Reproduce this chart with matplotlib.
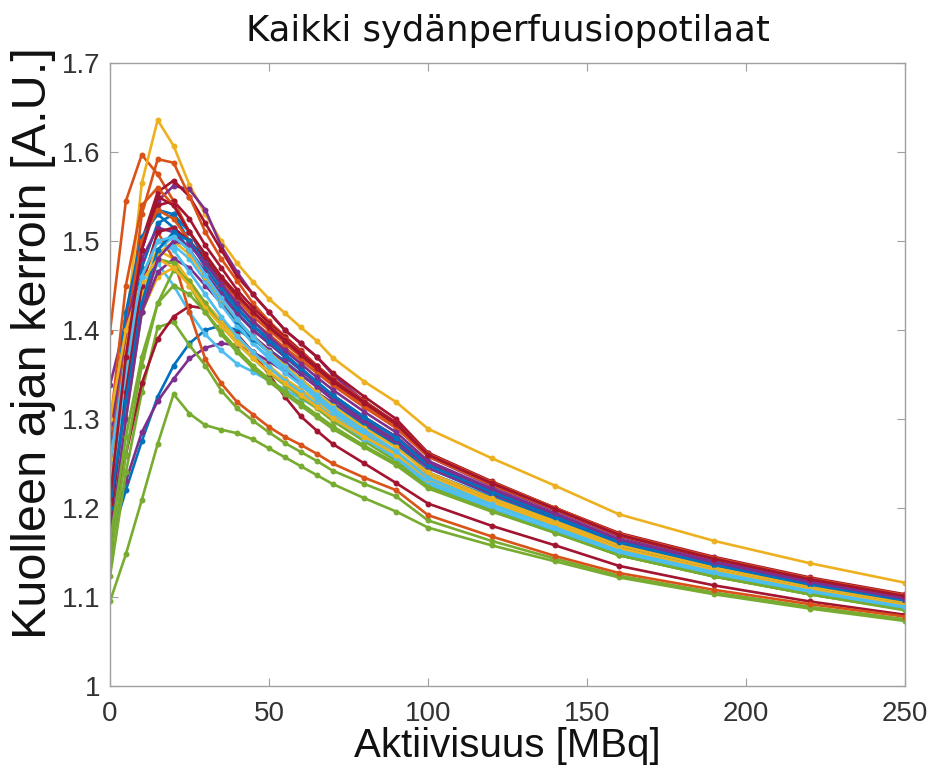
import matplotlib
matplotlib.use("Agg")
import matplotlib.pyplot as plt

# activity sample points [MBq]
aktiivisuus = [0, 5, 10, 15, 20, 25, 30, 35, 40, 45, 50, 55, 60, 65, 70,
               80, 90, 100, 120, 140, 160, 190, 220, 250]

# dead time factor per patient
p01 = [1.25, 1.40, 1.50, 1.535, 1.53, 1.50, 1.47, 1.445, 1.42, 1.40, 1.385, 1.37, 1.355, 1.34, 1.325, 1.30, 1.28, 1.245, 1.215, 1.188, 1.16, 1.135, 1.113, 1.095]
p02 = [1.398, 1.545, 1.597, 1.575, 1.545, 1.51, 1.48, 1.455, 1.435, 1.415, 1.40, 1.385, 1.37, 1.355, 1.34, 1.315, 1.29, 1.258, 1.226, 1.198, 1.17, 1.143, 1.12, 1.10]
p03 = [1.24, 1.40, 1.565, 1.636, 1.607, 1.563, 1.53, 1.50, 1.475, 1.454, 1.435, 1.419, 1.403, 1.388, 1.369, 1.342, 1.319, 1.289, 1.256, 1.225, 1.193, 1.163, 1.138, 1.116]
p04 = [1.338, 1.41, 1.49, 1.545, 1.562, 1.558, 1.535, 1.494, 1.465, 1.44, 1.42, 1.40, 1.385, 1.37, 1.35, 1.32, 1.295, 1.258, 1.225, 1.197, 1.168, 1.14, 1.118, 1.099]
p05 = [1.095, 1.148, 1.209, 1.272, 1.328, 1.306, 1.293, 1.288, 1.284, 1.277, 1.267, 1.257, 1.247, 1.237, 1.227, 1.211, 1.196, 1.178, 1.158, 1.14, 1.122, 1.103, 1.087, 1.073]
p06 = [1.20, 1.33, 1.44, 1.49, 1.505, 1.49, 1.46, 1.43, 1.405, 1.385, 1.37, 1.355, 1.34, 1.325, 1.31, 1.285, 1.262, 1.232, 1.203, 1.178, 1.152, 1.128, 1.107, 1.09]
p07 = [1.23, 1.38, 1.50, 1.555, 1.568, 1.55, 1.52, 1.49, 1.46, 1.44, 1.42, 1.40, 1.385, 1.37, 1.352, 1.325, 1.30, 1.262, 1.23, 1.20, 1.172, 1.145, 1.122, 1.103]

p08 = [1.16, 1.22, 1.275, 1.325, 1.36, 1.385, 1.40, 1.405, 1.40, 1.39, 1.378, 1.365, 1.35, 1.337, 1.322, 1.297, 1.275, 1.24, 1.21, 1.184, 1.157, 1.132, 1.11, 1.092]
p09 = [1.22, 1.38, 1.53, 1.592, 1.588, 1.55, 1.51, 1.48, 1.455, 1.43, 1.41, 1.393, 1.377, 1.36, 1.345, 1.318, 1.293, 1.26, 1.228, 1.20, 1.17, 1.143, 1.12, 1.101]
p10 = [1.26, 1.38, 1.46, 1.49, 1.48, 1.455, 1.43, 1.41, 1.39, 1.375, 1.36, 1.345, 1.333, 1.32, 1.305, 1.283, 1.262, 1.235, 1.207, 1.182, 1.156, 1.132, 1.11, 1.092]
p11 = [1.17, 1.23, 1.285, 1.32, 1.345, 1.368, 1.38, 1.385, 1.383, 1.375, 1.365, 1.353, 1.342, 1.33, 1.318, 1.295, 1.272, 1.238, 1.21, 1.184, 1.157, 1.132, 1.11, 1.092]
p12 = [1.123, 1.24, 1.33, 1.403, 1.409, 1.383, 1.36, 1.332, 1.312, 1.298, 1.285, 1.273, 1.263, 1.253, 1.242, 1.227, 1.213, 1.186, 1.163, 1.143, 1.124, 1.105, 1.089, 1.075]
p13 = [1.18, 1.32, 1.43, 1.475, 1.45, 1.42, 1.395, 1.377, 1.362, 1.353, 1.343, 1.333, 1.323, 1.313, 1.303, 1.28, 1.258, 1.228, 1.199, 1.174, 1.149, 1.125, 1.104, 1.087]
p14 = [1.175, 1.26, 1.34, 1.39, 1.415, 1.427, 1.424, 1.41, 1.395, 1.375, 1.35, 1.325, 1.303, 1.287, 1.272, 1.25, 1.228, 1.205, 1.18, 1.158, 1.135, 1.113, 1.095, 1.08]

p15 = [1.22, 1.36, 1.47, 1.52, 1.53, 1.51, 1.48, 1.45, 1.425, 1.405, 1.39, 1.373, 1.357, 1.342, 1.327, 1.302, 1.28, 1.25, 1.22, 1.192, 1.163, 1.137, 1.115, 1.097]
p16 = [1.20, 1.33, 1.45, 1.51, 1.48, 1.42, 1.367, 1.34, 1.319, 1.305, 1.291, 1.28, 1.271, 1.261, 1.25, 1.234, 1.22, 1.192, 1.168, 1.146, 1.127, 1.108, 1.092, 1.078]
p17 = [1.27, 1.36, 1.42, 1.46, 1.47, 1.455, 1.43, 1.41, 1.39, 1.373, 1.358, 1.345, 1.333, 1.32, 1.307, 1.285, 1.263, 1.237, 1.208, 1.183, 1.156, 1.132, 1.11, 1.092]
p18 = [1.24, 1.34, 1.42, 1.465, 1.48, 1.47, 1.45, 1.43, 1.41, 1.393, 1.378, 1.363, 1.35, 1.336, 1.322, 1.298, 1.276, 1.245, 1.216, 1.19, 1.162, 1.137, 1.115, 1.096]
p19 = [1.14, 1.26, 1.36, 1.43, 1.467, 1.455, 1.43, 1.405, 1.385, 1.368, 1.352, 1.338, 1.325, 1.312, 1.298, 1.275, 1.253, 1.226, 1.198, 1.173, 1.147, 1.123, 1.103, 1.086]
p20 = [1.21, 1.34, 1.44, 1.485, 1.495, 1.48, 1.455, 1.428, 1.405, 1.385, 1.368, 1.352, 1.338, 1.323, 1.308, 1.283, 1.26, 1.23, 1.20, 1.175, 1.15, 1.126, 1.105, 1.088]
p21 = [1.26, 1.40, 1.50, 1.54, 1.545, 1.525, 1.495, 1.47, 1.445, 1.425, 1.408, 1.392, 1.376, 1.36, 1.345, 1.32, 1.296, 1.262, 1.229, 1.20, 1.171, 1.144, 1.121, 1.102]

p22 = [1.27, 1.42, 1.505, 1.53, 1.515, 1.49, 1.46, 1.435, 1.41, 1.39, 1.375, 1.36, 1.345, 1.33, 1.316, 1.292, 1.27, 1.24, 1.212, 1.186, 1.158, 1.133, 1.112, 1.094]
p23 = [1.25, 1.40, 1.50, 1.535, 1.525, 1.50, 1.475, 1.45, 1.43, 1.41, 1.395, 1.38, 1.366, 1.352, 1.338, 1.313, 1.29, 1.258, 1.226, 1.198, 1.169, 1.143, 1.12, 1.101]
p24 = [1.23, 1.35, 1.44, 1.485, 1.50, 1.485, 1.46, 1.435, 1.412, 1.392, 1.375, 1.36, 1.345, 1.33, 1.315, 1.29, 1.268, 1.24, 1.211, 1.185, 1.158, 1.133, 1.112, 1.094]
p25 = [1.28, 1.40, 1.48, 1.515, 1.51, 1.49, 1.465, 1.44, 1.418, 1.40, 1.385, 1.37, 1.355, 1.34, 1.326, 1.302, 1.28, 1.25, 1.22, 1.193, 1.164, 1.138, 1.116, 1.097]
p26 = [1.15, 1.30, 1.42, 1.48, 1.475, 1.45, 1.42, 1.395, 1.375, 1.357, 1.342, 1.328, 1.315, 1.302, 1.289, 1.268, 1.248, 1.222, 1.196, 1.172, 1.147, 1.123, 1.103, 1.086]
p27 = [1.19, 1.35, 1.46, 1.50, 1.49, 1.465, 1.44, 1.415, 1.393, 1.375, 1.358, 1.343, 1.33, 1.316, 1.302, 1.278, 1.256, 1.227, 1.198, 1.173, 1.148, 1.125, 1.104, 1.087]
p28 = [1.18, 1.33, 1.45, 1.51, 1.515, 1.50, 1.48, 1.458, 1.438, 1.42, 1.403, 1.388, 1.372, 1.357, 1.342, 1.318, 1.294, 1.26, 1.228, 1.199, 1.17, 1.143, 1.12, 1.101]

p29 = [1.20, 1.32, 1.43, 1.49, 1.51, 1.50, 1.475, 1.45, 1.425, 1.405, 1.388, 1.372, 1.357, 1.342, 1.327, 1.302, 1.279, 1.248, 1.218, 1.19, 1.162, 1.136, 1.114, 1.096]
p30 = [1.29, 1.45, 1.54, 1.56, 1.54, 1.51, 1.485, 1.46, 1.44, 1.42, 1.405, 1.39, 1.375, 1.36, 1.345, 1.32, 1.295, 1.261, 1.229, 1.20, 1.171, 1.144, 1.121, 1.102]
p31 = [1.30, 1.40, 1.455, 1.48, 1.47, 1.45, 1.425, 1.405, 1.385, 1.368, 1.353, 1.34, 1.327, 1.314, 1.301, 1.28, 1.26, 1.233, 1.205, 1.18, 1.154, 1.13, 1.109, 1.091]
p32 = [1.16, 1.30, 1.42, 1.48, 1.50, 1.495, 1.475, 1.452, 1.43, 1.41, 1.393, 1.377, 1.362, 1.347, 1.333, 1.308, 1.285, 1.253, 1.222, 1.194, 1.165, 1.139, 1.117, 1.098]
p33 = [1.16, 1.28, 1.37, 1.43, 1.45, 1.44, 1.42, 1.398, 1.378, 1.36, 1.345, 1.331, 1.318, 1.305, 1.292, 1.27, 1.25, 1.224, 1.197, 1.172, 1.147, 1.123, 1.103, 1.085]
p34 = [1.25, 1.37, 1.46, 1.50, 1.505, 1.49, 1.462, 1.436, 1.412, 1.392, 1.374, 1.358, 1.342, 1.327, 1.312, 1.287, 1.264, 1.234, 1.204, 1.178, 1.152, 1.128, 1.107, 1.089]
p35 = [1.21, 1.37, 1.49, 1.55, 1.54, 1.51, 1.485, 1.46, 1.44, 1.42, 1.404, 1.389, 1.374, 1.359, 1.344, 1.319, 1.295, 1.26, 1.228, 1.199, 1.17, 1.143, 1.12, 1.101]

potilaat = [p01, p02, p03, p04, p05, p06, p07, p08, p09, p10, p11, p12, p13, p14,
            p15, p16, p17, p18, p19, p20, p21, p22, p23, p24, p25, p26, p27, p28,
            p29, p30, p31, p32, p33, p34, p35]

# matlab default colour order
varit = ["#0072BD", "#D95319", "#EDB120", "#7E2F8E", "#77AC30", "#4DBEEE", "#A2142F"]

fig = plt.figure(figsize=(9.32, 7.69), dpi=100)
ax = fig.add_axes([0.118, 0.108, 0.853, 0.810])

for i, p in enumerate(potilaat):
    ax.plot(aktiivisuus, p, '.-', color=varit[i % 7], lw=1.9, ms=6.5)

ax.set_xlim(0, 250)
ax.set_ylim(1, 1.7)
ax.set_xticks([0, 50, 100, 150, 200, 250])
ax.set_yticks([1, 1.1, 1.2, 1.3, 1.4, 1.5, 1.6, 1.7])
ax.set_yticklabels(["1", "1.1", "1.2", "1.3", "1.4", "1.5", "1.6", "1.7"])

for s in ax.spines.values():
    s.set_color("#a0a0a0")
    s.set_linewidth(1.0)
ax.tick_params(direction="in", length=6, color="#a0a0a0", labelsize=20,
               labelcolor="#333333", top=True, right=True, labeltop=False, labelright=False)
ax.tick_params(axis="x", pad=11)
ax.tick_params(axis="y", pad=7)
for t in ax.get_xticklabels() + ax.get_yticklabels():
    t.set_family("Liberation Sans")

ax.set_title("Kaikki sydänperfuusiopotilaat", fontsize=25.5, pad=16, color="#111111")
ax.set_xlabel("Aktiivisuus [MBq]", fontsize=29, labelpad=0, color="#111111",
              family="Liberation Sans")
ax.set_ylabel("Kuolleen ajan kerroin [A.U.]", fontsize=35, labelpad=4, color="#111111",
              family="Liberation Sans")
ax.yaxis.label.set_y(0.55)

fig.savefig("out.png", dpi=100)
